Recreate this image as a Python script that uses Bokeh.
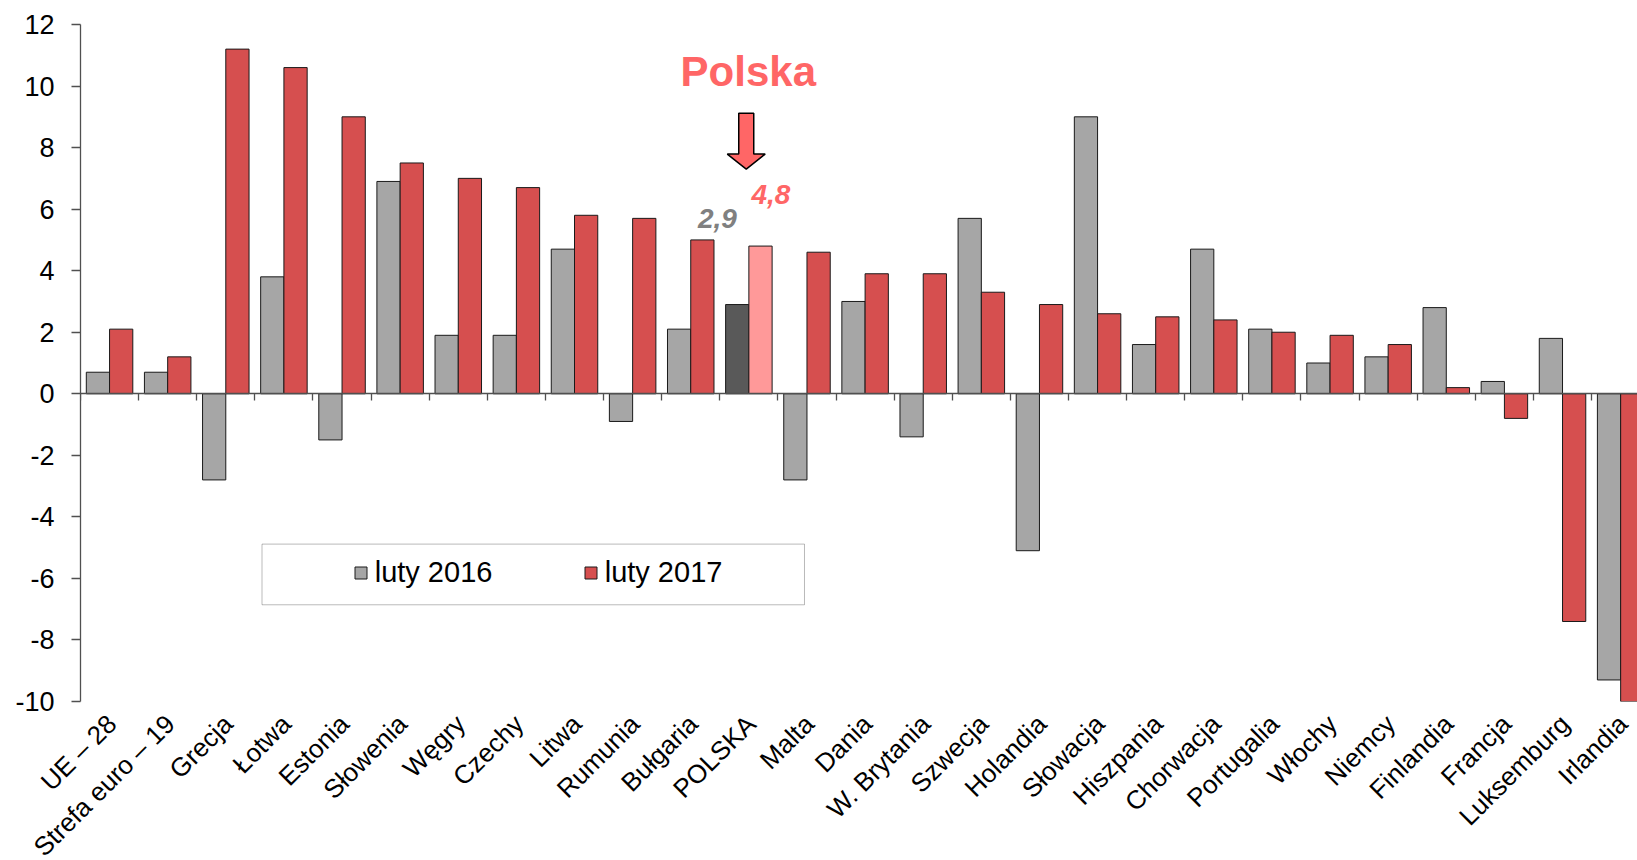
import numpy as np
from bokeh.plotting import figure
from bokeh.models import (Range1d, LinearAxis, FixedTicker, Legend, LegendItem,
                          BoxAnnotation, ColumnDataSource)
from bokeh.core.properties import value
from bokeh.embed import file_html
from bokeh.resources import INLINE

# ---------------- data ----------------
categories = ["UE \u2013 28", "Strefa euro \u2013 19", "Grecja", "\u0141otwa", "Estonia",
              "S\u0142owenia", "W\u0119gry", "Czechy", "Litwa", "Rumunia", "Bu\u0142garia",
              "POLSKA", "Malta", "Dania", "W. Brytania", "Szwecja", "Holandia",
              "S\u0142owacja", "Hiszpania", "Chorwacja", "Portugalia", "W\u0142ochy",
              "Niemcy", "Finlandia", "Francja", "Luksemburg", "Irlandia"]
luty_2016 = [0.7, 0.7, -2.8, 3.8, -1.5, 6.9, 1.9, 1.9, 4.7, -0.9, 2.1,
             2.9, -2.8, 3.0, -1.4, 5.7, -5.1, 9.0, 1.6, 4.7, 2.1, 1.0,
             1.2, 2.8, 0.4, 1.8, -9.3]
luty_2017 = [2.1, 1.2, 11.2, 10.6, 9.0, 7.5, 7.0, 6.7, 5.8, 5.7, 5.0,
             4.8, 4.6, 3.9, 3.9, 3.3, 2.9, 2.6, 2.5, 2.4, 2.0, 1.9,
             1.6, 0.2, -0.8, -7.4, -10.0]
series_labels = ["luty 2016", "luty 2017"]
y_ticks = [-10, -8, -6, -4, -2, 0, 2, 4, 6, 8, 10, 12]
highlight = "POLSKA"
highlight_title = "Polska"

# ---------------- style ----------------
FONT = "Liberation Sans"
GRAY = "#a6a6a6"
RED = "#d64f4f"
PL_GRAY = "#595959"
PL_RED = "#ff9999"
ACCENT = "#ff6666"
VALUE_GRAY = "#808080"
AXIS = "#505050"

n = len(categories)
idx = np.arange(n)
X_END = 26.79          # the plot is cut on the right, as in the reference
LABEL_SHIFT = 0.04     # rotated labels end just right of the category centre

c16 = [PL_GRAY if c == highlight else GRAY for c in categories]
c17 = [PL_RED if c == highlight else RED for c in categories]

src = ColumnDataSource(dict(
    x16=idx + 0.3, x17=idx + 0.7,
    v16=luty_2016, v17=luty_2017,
    c16=c16, c17=c17, cat=categories))

p = figure(frame_width=1557, frame_height=677,
           x_range=Range1d(0, X_END), y_range=Range1d(y_ticks[0], y_ticks[-1]),
           output_backend="svg", toolbar_location=None, x_axis_location=None,
           min_border_left=80, min_border_right=0, min_border_top=24,
           min_border_bottom=0, background_fill_color="white",
           border_fill_color="white", outline_line_color=None)
p.xgrid.visible = False
p.ygrid.visible = False

# y axis
ya = p.yaxis[0]
ya.ticker = FixedTicker(ticks=y_ticks, minor_ticks=[])
ya.major_label_overrides = {t: str(t) for t in y_ticks}
ya.major_tick_out = 9
ya.major_tick_in = 0
ya.minor_tick_out = 0
ya.minor_tick_in = 0
ya.axis_line_color = AXIS
ya.axis_line_width = 1.3
ya.major_tick_line_color = AXIS
ya.major_tick_line_width = 1.3
ya.major_label_standoff = 17
ya.major_label_text_font = FONT
ya.major_label_text_font_size = "27px"
ya.major_label_text_color = "black"

# bars
r16 = p.vbar(x="x16", top="v16", bottom=0, width=0.4, fill_color="c16",
             line_color="#1a1a1a", line_width=1, source=src)
r17 = p.vbar(x="x17", top="v17", bottom=0, width=0.4, fill_color="c17",
             line_color="#1a1a1a", line_width=1, source=src)

# axis line at zero with category boundary ticks
zero_axis = LinearAxis(fixed_location=0,
                       ticker=FixedTicker(ticks=list(range(0, n + 1)), minor_ticks=[]),
                       major_tick_out=7, major_tick_in=0, minor_tick_out=0,
                       major_label_overrides={i: "" for i in range(0, n + 1)},
                       major_label_standoff=0,
                       axis_line_color=AXIS, axis_line_width=1.3,
                       major_tick_line_color=AXIS, major_tick_line_width=1.3)
p.add_layout(zero_axis, "below")

# category labels at the bottom
p.extra_x_ranges = {"labels": Range1d(-0.5 - LABEL_SHIFT, X_END - 0.5 - LABEL_SHIFT)}
label_axis = LinearAxis(x_range_name="labels",
                        ticker=FixedTicker(ticks=list(range(n)), minor_ticks=[]),
                        major_label_overrides={i: c for i, c in enumerate(categories)},
                        major_label_orientation=np.pi / 4,
                        major_label_standoff=18,
                        major_tick_out=0, major_tick_in=0,
                        axis_line_color=None, major_tick_line_color=None,
                        minor_tick_line_color=None,
                        major_label_text_font=FONT,
                        major_label_text_font_size="26px",
                        major_label_text_color="black")
p.add_layout(label_axis, "below")

# highlight annotation for Poland
pl = categories.index(highlight)
v16_pl = luty_2016[pl]
v17_pl = luty_2017[pl]
fmt = lambda v: f"{v:.1f}".replace(".", ",")

p.text(x=[pl + 0.49], y=[10.46], text=[highlight_title], text_font=value(FONT),
       text_font_size="42px", text_font_style="bold", text_color=ACCENT,
       text_align="center", text_baseline="alphabetic")

ax = pl + 0.455
shaft = 0.129
head = 0.326
p.patch(x=[ax - shaft, ax + shaft, ax + shaft, ax + head, ax, ax - head, ax - shaft],
        y=[9.12, 9.12, 7.79, 7.79, 7.30, 7.79, 7.79],
        fill_color=ACCENT, line_color="black", line_width=1.5)

p.text(x=[pl - 0.04], y=[5.70], text=[fmt(v16_pl)], text_font=value(FONT),
       text_font_size="28px", text_font_style="bold italic", text_color=VALUE_GRAY,
       text_align="center", text_baseline="alphabetic")
p.text(x=[pl + 0.88], y=[6.48], text=[fmt(v17_pl)], text_font=value(FONT),
       text_font_size="28px", text_font_style="bold italic", text_color=ACCENT,
       text_align="center", text_baseline="alphabetic")

# legend box and legend
box = BoxAnnotation(left=3.123, right=12.457, top=-4.885, bottom=-6.857,
                    fill_color="white", fill_alpha=1, line_color="#1a1a1a",
                    line_width=1, level="annotation")
p.add_layout(box)
legend = Legend(items=[LegendItem(label=series_labels[0], renderers=[r16], index=0),
                       LegendItem(label=series_labels[1], renderers=[r17], index=0)],
                orientation="horizontal", location=(272.7, 112),
                padding=0, margin=0, spacing=0,
                glyph_width=15, glyph_height=15, label_standoff=7, label_width=208,
                label_height=15,
                label_text_font=FONT, label_text_font_size="29px",
                label_text_color="black",
                background_fill_alpha=0, border_line_color=None)
p.add_layout(legend)

open("out.html", "w").write(file_html(p, INLINE))
